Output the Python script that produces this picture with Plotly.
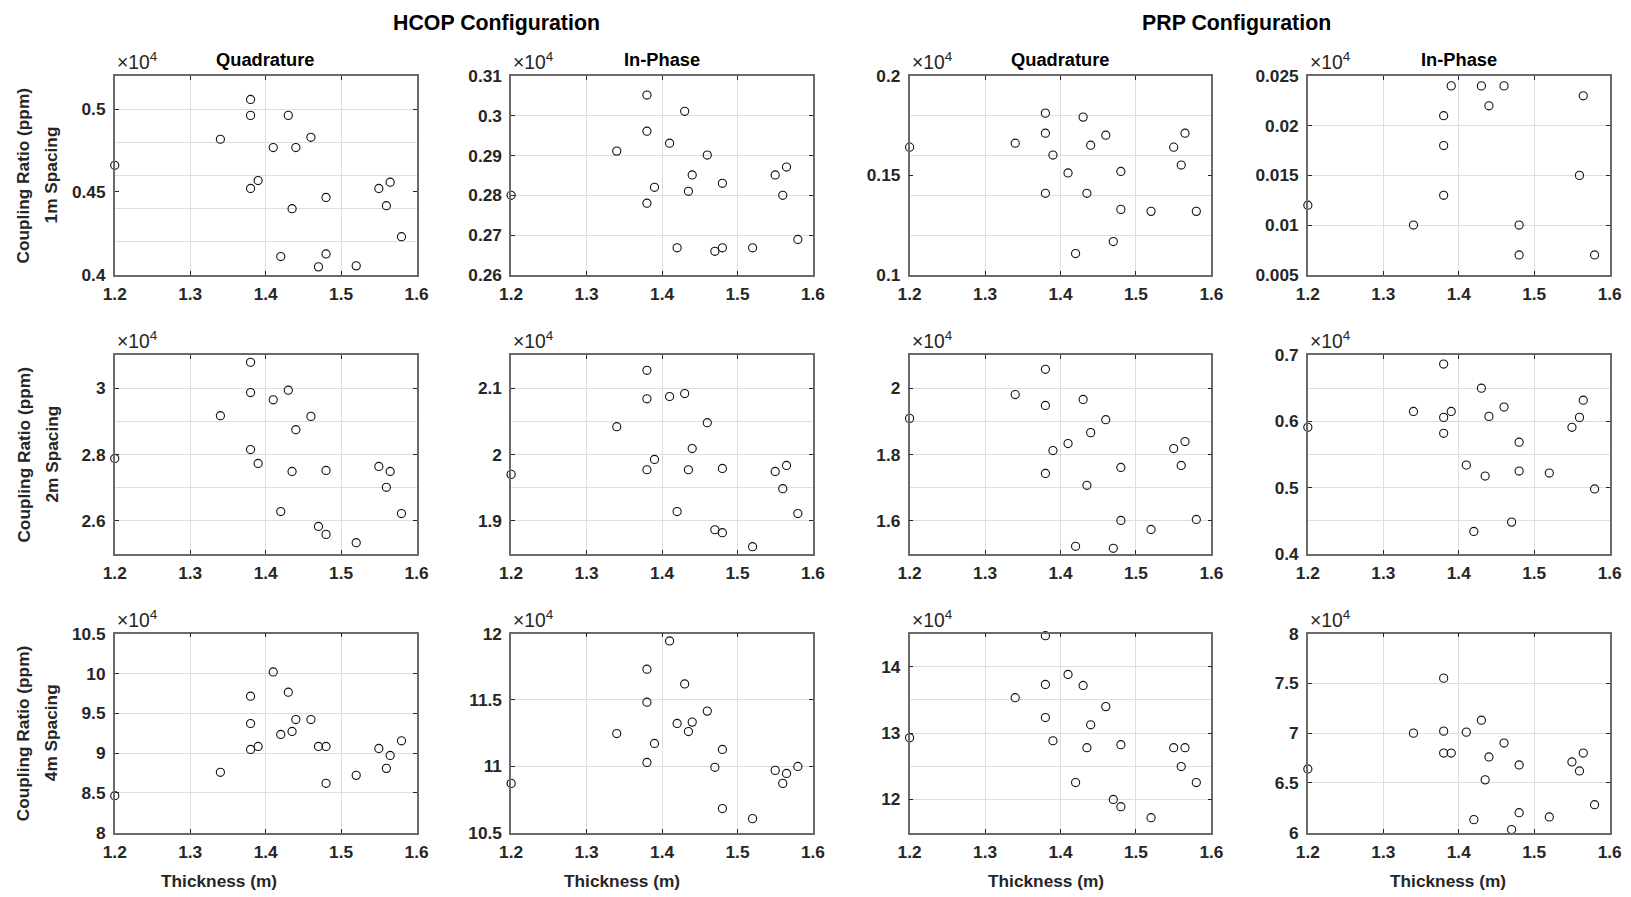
import plotly.graph_objects as go

# ---------------- data ----------------
thickness = [1.20, 1.34, 1.38, 1.38, 1.38, 1.39, 1.41, 1.42, 1.43, 1.435,
             1.44, 1.46, 1.47, 1.48, 1.48, 1.52, 1.55, 1.56, 1.565, 1.58]

# coupling ratios in ppm
hcop_quad_1m = [4661, 4818, 5058, 4962, 4521, 4569, 4768, 4110, 4962, 4399,
                4768, 4830, 4048, 4467, 4126, 4054, 4521, 4417, 4559, 4230]
hcop_inph_1m = [2800, 2911, 3052, 2961, 2780, 2820, 2931, 2668, 3011, 2810,
                2851, 2901, 2659, 2830, 2668, 2668, 2851, 2800, 2871, 2689]
prp_quad_1m = [1642, 1662, 1813, 1712, 1410, 1602, 1512, 1107, 1793, 1410,
               1652, 1702, 1167, 1520, 1329, 1319, 1642, 1552, 1712, 1319]
prp_inph_1m = [120, 100, 210, 180, 130, 240, None, None, 240, None,
               220, 240, None, 100, 70, None, None, 150, 230, 70]

hcop_quad_2m = [27880, 29170, 30780, 29870, 28150, 27730, 29650, 26280, 29940, 27490,
                28750, 29150, 25830, 27520, 25590, 25340, 27640, 27010, 27490, 26220]
hcop_inph_2m = [19700, 20420, 21270, 20840, 19770, 19925, 20875, 19140, 20920, 19770,
                20090, 20480, 18865, 19790, 18820, 18610, 19745, 19485, 19835, 19110]
prp_quad_2m = [19090, 19810, 20570, 19480, 17430, 18120, 18330, 15230, 19660, 17070,
               18660, 19050, 15170, 17610, 16010, 15740, 18180, 17670, 18390, 16040]
prp_inph_2m = [5910, 6150, 6865, 6060, 5820, 6150, 5340, 4340, 6500, 5175,
               6075, 6215, 4480, 5685, 5250, 5220, 5910, 6060, 6320, 4980]

hcop_quad_4m = [84640, 87570, 97140, 93710, 90450, 90830, 100190, 92330, 97640, 92710,
                94210, 94210, 90830, 90830, 86190, 87190, 90580, 88070, 89700, 91540]
hcop_inph_4m = [108710, 112470, 117320, 114830, 110290, 111720, 119450, 113230, 116210, 112620,
                113330, 114160, 109920, 111270, 106810, 106050, 109690, 108710, 109460, 109990]
prp_quad_4m = [129300, 135350, 144700, 137350, 132350, 128850, 138850, 122550, 137200, 127800,
               131250, 134000, 120000, 128250, 118900, 117250, 127800, 124950, 127800, 122550]
prp_inph_4m = [66400, 70000, 75530, 70200, 68000, 68000, 70100, 61300, 71300, 65300,
               67600, 69000, 60300, 66800, 62000, 61570, 67100, 66200, 68000, 62800]

# axis ranges / ticks (in units of 10^4 ppm)
x_ticks = [1.2, 1.3, 1.4, 1.5, 1.6]
x_ticklabels = ["1.2", "1.3", "1.4", "1.5", "1.6"]

y_ranges = [[0.40, 0.52], [0.26, 0.31], [0.10, 0.20], [0.005, 0.025],
            [2.5, 3.1], [1.85, 2.15], [1.5, 2.1], [0.4, 0.7],
            [8.0, 10.5], [10.5, 12.0], [11.5, 14.5], [6.0, 8.0]]
y_ticks = [[0.4, 0.45, 0.5], [0.26, 0.27, 0.28, 0.29, 0.30, 0.31], [0.1, 0.15, 0.2],
           [0.005, 0.01, 0.015, 0.02, 0.025],
           [2.6, 2.8, 3.0], [1.9, 2.0, 2.1], [1.6, 1.8, 2.0], [0.4, 0.5, 0.6, 0.7],
           [8, 8.5, 9, 9.5, 10, 10.5], [10.5, 11, 11.5, 12], [12, 13, 14], [6, 6.5, 7, 7.5, 8]]
y_ticklabels = [["0.4", "0.45", "0.5"], ["0.26", "0.27", "0.28", "0.29", "0.3", "0.31"],
                ["0.1", "0.15", "0.2"], ["0.005", "0.01", "0.015", "0.02", "0.025"],
                ["2.6", "2.8", "3"], ["1.9", "2", "2.1"], ["1.6", "1.8", "2"],
                ["0.4", "0.5", "0.6", "0.7"],
                ["8", "8.5", "9", "9.5", "10", "10.5"], ["10.5", "11", "11.5", "12"],
                ["12", "13", "14"], ["6", "6.5", "7", "7.5", "8"]]
y_grid = [[0.42, 0.44, 0.46, 0.48, 0.50], [0.27, 0.28, 0.29, 0.30], [0.12, 0.14, 0.16, 0.18],
          [0.01, 0.015, 0.02],
          [2.6, 2.7, 2.8, 2.9, 3.0], [1.9, 1.95, 2.0, 2.05, 2.1], [1.6, 1.7, 1.8, 1.9, 2.0],
          [0.45, 0.5, 0.55, 0.6, 0.65],
          [8.5, 9, 9.5, 10], [11, 11.5], [12, 12.5, 13, 13.5, 14], [6.5, 7, 7.5]]

series = [hcop_quad_1m, hcop_inph_1m, prp_quad_1m, prp_inph_1m,
          hcop_quad_2m, hcop_inph_2m, prp_quad_2m, prp_inph_2m,
          hcop_quad_4m, hcop_inph_4m, prp_quad_4m, prp_inph_4m]

config_titles = ["HCOP Configuration", "PRP Configuration"]
component_titles = ["Quadrature", "In-Phase", "Quadrature", "In-Phase"]
spacings = ["1m Spacing", "2m Spacing", "4m Spacing"]
SCALE = 1e4

# ---------------- layout ----------------
# compensation for the page margin / capture scaling observed in the renderer
PAGE_W, PAGE_H = 1631, 897
OFF = 8
SX, SY = 0.986, 0.981
W = int(round(PAGE_W / SX - OFF))
H = int(round(PAGE_H / SY - OFF))
FS = 1 / 0.984  # font compensation


def px(xp):
    return (xp / SX - OFF) / W


def py(yp):
    return 1 - (yp / SY - OFF) / H


col_left = [110.7, 507.3, 906.0, 1304.5]
ax_w = 302.0
row_top = [74.0, 354.0, 633.5]
ax_h = 199.5

FONT = "Liberation Sans, Arial, Helvetica, sans-serif"
AXCOL = "#262626"
GRIDCOL = "#dedede"
LINECOL = "#6a6a6a"

fig = go.Figure()
annotations = []

for r in range(3):
    for c in range(4):
        i = r * 4 + c
        k = i + 1
        sfx = "" if k == 1 else str(k)
        vals = [None if v is None else v / SCALE for v in series[i]]
        fig.add_trace(go.Scatter(
            x=thickness, y=vals, mode="markers",
            xaxis="x" + sfx, yaxis="y" + sfx,
            marker=dict(symbol="circle-open", size=8 * FS, color="#111111",
                        line=dict(width=1.1)),
            cliponaxis=False, showlegend=False, hoverinfo="x+y"))

        fig.layout["xaxis" + sfx] = dict(
            domain=[px(col_left[c]), px(col_left[c] + ax_w)], anchor="y" + sfx,
            range=[1.2, 1.6],
            tickmode="array", tickvals=x_ticks, ticktext=x_ticklabels,
            showgrid=True, gridcolor=GRIDCOL, gridwidth=1, zeroline=False,
            showline=True, linecolor=LINECOL, linewidth=1.5, mirror="ticks",
            ticks="inside", ticklen=4, tickcolor=AXCOL, tickwidth=1,
            ticklabelstandoff=3,
            tickfont=dict(family=FONT, size=17 * FS, color=AXCOL, weight="bold"))
        fig.layout["yaxis" + sfx] = dict(
            domain=[py(row_top[r] + ax_h), py(row_top[r])], anchor="x" + sfx,
            range=y_ranges[i],
            tickmode="array", tickvals=y_ticks[i], ticktext=y_ticklabels[i],
            showgrid=False, zeroline=False,
            minor=dict(tickmode="array", tickvals=y_grid[i], showgrid=True,
                       gridcolor=GRIDCOL, gridwidth=1, ticks=""),
            showline=True, linecolor=LINECOL, linewidth=1.5, mirror="ticks",
            ticks="inside", ticklen=4, tickcolor=AXCOL, tickwidth=1,
            ticklabelstandoff=4,
            tickfont=dict(family=FONT, size=17 * FS, color=AXCOL, weight="bold"))

        annotations.append(dict(
            text="\u00d710<sup>4</sup>", xref="paper", yref="paper",
            x=px(col_left[c]), y=py(row_top[r] - 1),
            xanchor="left", yanchor="bottom", showarrow=False,
            font=dict(family=FONT, size=19 * FS, color=AXCOL)))

for txt, xc in zip(config_titles, [492.5, 1233.0]):
    annotations.append(dict(
        text="<b>" + txt + "</b>", xref="paper", yref="paper",
        x=px(xc), y=py(21), xanchor="center", yanchor="middle",
        showarrow=False, font=dict(family=FONT, size=21 * FS, color="#000000")))

for c, txt in enumerate(component_titles):
    annotations.append(dict(
        text="<b>" + txt + "</b>", xref="paper", yref="paper",
        x=px(col_left[c] + ax_w / 2), y=py(58),
        xanchor="center", yanchor="middle",
        showarrow=False, font=dict(family=FONT, size=18 * FS, color="#000000")))

for r, sp in enumerate(spacings):
    yc = py(row_top[r] + ax_h / 2)
    annotations.append(dict(
        text="<b>Coupling Ratio (ppm)</b>", xref="paper", yref="paper",
        x=px(19), y=yc, xanchor="center", yanchor="middle", textangle=-90,
        showarrow=False, font=dict(family=FONT, size=17 * FS, color=AXCOL)))
    annotations.append(dict(
        text="<b>" + sp + "</b>", xref="paper", yref="paper",
        x=px(47), y=yc, xanchor="center", yanchor="middle", textangle=-90,
        showarrow=False, font=dict(family=FONT, size=17 * FS, color=AXCOL)))

for xc in [215, 618, 1042, 1445]:
    annotations.append(dict(
        text="<b>Thickness (m)</b>", xref="paper", yref="paper",
        x=px(xc), y=py(882), xanchor="center", yanchor="middle",
        showarrow=False, font=dict(family=FONT, size=17 * FS, color=AXCOL)))

fig.update_layout(
    width=W, height=H, margin=dict(l=0, r=0, t=0, b=0),
    paper_bgcolor="white", plot_bgcolor="white",
    annotations=annotations, showlegend=False,
    font=dict(family=FONT, color=AXCOL))

fig.write_html("out.html")
